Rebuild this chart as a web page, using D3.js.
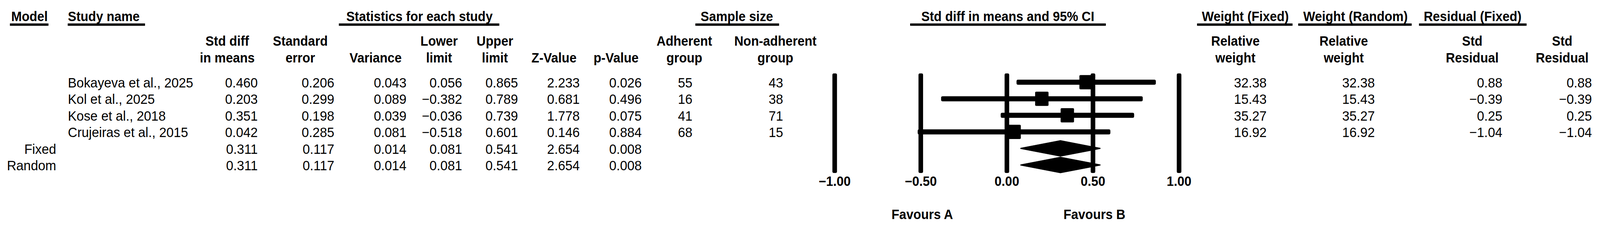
<!DOCTYPE html>
<html>
<head>
<meta charset="utf-8">
<script src="https://cdn.jsdelivr.net/npm/d3@7"></script>
<style>
  html, body { margin: 0; padding: 0; background: #fff; overflow: hidden; }
  svg { display: block; }
  text { font-family: "Liberation Sans", Arial, sans-serif; fill: #000; }
</style>
</head>
<body>
<script>
// ---------------- DATA ----------------
const studies = ["Bokayeva et al., 2025", "Kol et al., 2025", "Kose et al., 2018", "Crujeiras et al., 2015"];
const stdDiff = [0.460, 0.203, 0.351, 0.042];
const stdErr = [0.206, 0.299, 0.198, 0.285];
const variance = [0.043, 0.089, 0.039, 0.081];
const lowerLimit = [0.056, -0.382, -0.036, -0.518];
const upperLimit = [0.865, 0.789, 0.739, 0.601];
const zValue = [2.233, 0.681, 1.778, 0.146];
const pValue = [0.026, 0.496, 0.075, 0.884];
const nAdherent = [55, 16, 41, 68];
const nNonAdherent = [43, 38, 71, 15];
const weightFixed = [32.38, 15.43, 35.27, 16.92];
const weightRandom = [32.38, 15.43, 35.27, 16.92];
const residFixed = [0.88, -0.39, 0.25, -1.04];
const residRandom = [0.88, -0.39, 0.25, -1.04];

const models = ["Fixed", "Random"];
const modelStdDiff = [0.311, 0.311];
const modelStdErr = [0.117, 0.117];
const modelVariance = [0.014, 0.014];
const modelLower = [0.081, 0.081];
const modelUpper = [0.541, 0.541];
const modelZ = [2.654, 2.654];
const modelP = [0.008, 0.008];

const axisTicks = [-1.00, -0.50, 0.00, 0.50, 1.00];
const favoursLabels = ["Favours A", "Favours B"];
const favoursAt = [-0.50, 0.50];

const groupHeaders = ["Model", "Study name", "Statistics for each study", "Sample size",
  "Std diff in means and 95% CI", "Weight (Fixed)", "Weight (Random)", "Residual (Fixed)"];

// ---------------- LAYOUT ----------------
const W = 4358, H = 589;
const vw = window.innerWidth || W, vh = window.innerHeight || H;
const svg = d3.select("body").append("svg")
  .attr("width", vw).attr("height", vh)
  .attr("viewBox", `0 0 ${W} ${H}`)
  .attr("preserveAspectRatio", "none");
svg.append("rect").attr("width", W).attr("height", H).attr("fill", "#fff");

const HF = 34.5;   // header font size
const DF = 35.5;   // data font size

// group header layout: [anchor, textX, underline x0, underline x1]
const groupLayout = [
  ["start", 30.5, 27, 132],
  ["start", 185, 184.5, 395],
  ["middle", 1142.5, 923, 1360],
  ["middle", 2007, 1894, 2122],
  ["middle", 2745, 2479, 3012],
  ["middle", 3392, 3260.5, 3520.5],
  ["middle", 3692, 3536, 3845],
  ["middle", 4011, 3865, 4158]
];

groupHeaders.forEach((t, i) => {
  const [anchor, x, u0, u1] = groupLayout[i];
  svg.append("text").attr("x", x).attr("y", 54)
    .attr("text-anchor", anchor).attr("font-weight", "bold")
    .attr("font-size", HF).text(t);
  svg.append("rect").attr("x", u0).attr("y", 60).attr("width", u1 - u0).attr("height", 6).attr("fill", "#000");
});

// columns
const fmt3 = d3.format(".3f");
const fmt2 = d3.format(".2f");
const fmt0 = d3.format("d");

const columns = [
  { h: ["Std diff", "in means"], hx: 619, rx: 702, vals: stdDiff, mvals: modelStdDiff, f: fmt3 },
  { h: ["Standard", "error"], hx: 818, rx: 910.5, vals: stdErr, mvals: modelStdErr, f: fmt3 },
  { h: ["", "Variance"], hx: 1023, rx: 1107, vals: variance, mvals: modelVariance, f: fmt3 },
  { h: ["Lower", "limit"], hx: 1196, rx: 1258.7, vals: lowerLimit, mvals: modelLower, f: fmt3 },
  { h: ["Upper", "limit"], hx: 1348, rx: 1411, vals: upperLimit, mvals: modelUpper, f: fmt3 },
  { h: ["", "Z-Value"], hx: 1509, rx: 1579, vals: zValue, mvals: modelZ, f: fmt3 },
  { h: ["", "p-Value"], hx: 1678, rx: 1748, vals: pValue, mvals: modelP, f: fmt3 },
  { h: ["Adherent", "group"], hx: 1864, rx: 1886, vals: nAdherent, mvals: null, f: fmt0 },
  { h: ["Non-adherent", "group"], hx: 2112, rx: 2133, vals: nNonAdherent, mvals: null, f: fmt0 },
  { h: ["Relative", "weight"], hx: 3365, rx: 3450, vals: weightFixed, mvals: null, f: fmt2 },
  { h: ["Relative", "weight"], hx: 3660, rx: 3744.6, vals: weightRandom, mvals: null, f: fmt2 },
  { h: ["Std", "Residual"], hx: 4010, rx: 4092, vals: residFixed, mvals: null, f: fmt2 },
  { h: ["Std", "Residual"], hx: 4255, rx: 4336, vals: residRandom, mvals: null, f: fmt2 }
];

// row scale: study rows 0..3, model rows 4..5
const nRows = studies.length + models.length;
const yRow = d3.scaleLinear().domain([0, nRows - 1]).range([210.5, 422.5]);
const baseOff = 13.5;

columns.forEach(c => {
  c.h.forEach((line, k) => {
    if (!line) return;
    svg.append("text").attr("x", c.hx).attr("y", k === 0 ? 117 : 160)
      .attr("text-anchor", "middle").attr("font-weight", "bold")
      .attr("font-size", HF).text(line);
  });
  const g = svg.append("g");
  g.selectAll("text.v").data(c.vals).join("text")
    .attr("x", c.rx).attr("y", (d, i) => yRow(i) + baseOff)
    .attr("text-anchor", "end").attr("font-size", DF).text(d => c.f(d));
  if (c.mvals) {
    g.selectAll("text.m").data(c.mvals).join("text")
      .attr("x", c.rx).attr("y", (d, i) => yRow(studies.length + i) + baseOff)
      .attr("text-anchor", "end").attr("font-size", DF).text(d => c.f(d));
  }
});

// study names and model labels
svg.append("g").selectAll("text").data(studies).join("text")
  .attr("x", 185).attr("y", (d, i) => yRow(i) + baseOff)
  .attr("font-size", DF).text(d => d);
svg.append("g").selectAll("text").data(models).join("text")
  .attr("x", 153).attr("y", (d, i) => yRow(studies.length + i) + baseOff)
  .attr("text-anchor", "end").attr("font-size", DF).text(d => d);

// ---------------- FOREST PLOT ----------------
const x = d3.scaleLinear().domain([-1, 1]).range([2273.5, 3211.5]);
const plotTop = 188, plotBottom = 443;
const lineW = 12.5;

// vertical reference lines at the axis ticks
svg.append("g").selectAll("rect").data(axisTicks).join("rect")
  .attr("x", d => x(d) - lineW / 2).attr("y", plotTop)
  .attr("width", lineW).attr("height", plotBottom - plotTop)
  .attr("rx", 4).attr("fill", "#000");

// tick labels
svg.append("g").selectAll("text").data(axisTicks).join("text")
  .attr("x", d => x(d)).attr("y", 476)
  .attr("text-anchor", "middle").attr("font-weight", "bold")
  .attr("font-size", HF).text(d => fmt2(d));

// CI lines
const ciH = 13;
svg.append("g").selectAll("rect").data(studies.map((s, i) => i)).join("rect")
  .attr("x", i => x(lowerLimit[i])).attr("y", i => yRow(i) - ciH / 2)
  .attr("width", i => x(upperLimit[i]) - x(lowerLimit[i])).attr("height", ciH)
  .attr("rx", 4).attr("fill", "#000");

// squares
const sq = 36.5;
svg.append("g").selectAll("rect").data(studies.map((s, i) => i)).join("rect")
  .attr("x", i => x(stdDiff[i]) - sq / 2).attr("y", i => yRow(i) - sq / 2)
  .attr("width", sq).attr("height", sq).attr("rx", 3).attr("fill", "#000");

// diamonds
const dh = 19.5;
svg.append("g").selectAll("path").data(models.map((m, i) => i)).join("path")
  .attr("d", i => {
    const cy = yRow(studies.length + i);
    return d3.line()([
      [x(modelLower[i]), cy], [x(modelStdDiff[i]), cy - dh],
      [x(modelUpper[i]), cy], [x(modelStdDiff[i]), cy + dh]
    ]) + "Z";
  })
  .attr("fill", "#000").attr("stroke", "#000").attr("stroke-width", 3).attr("stroke-linejoin", "round");

// favours labels
svg.append("g").selectAll("text").data(favoursLabels).join("text")
  .attr("x", (d, i) => x(favoursAt[i]) + 4).attr("y", 561.5)
  .attr("text-anchor", "middle").attr("font-weight", "bold")
  .attr("font-size", HF).text(d => d);
</script>
</body>
</html>
